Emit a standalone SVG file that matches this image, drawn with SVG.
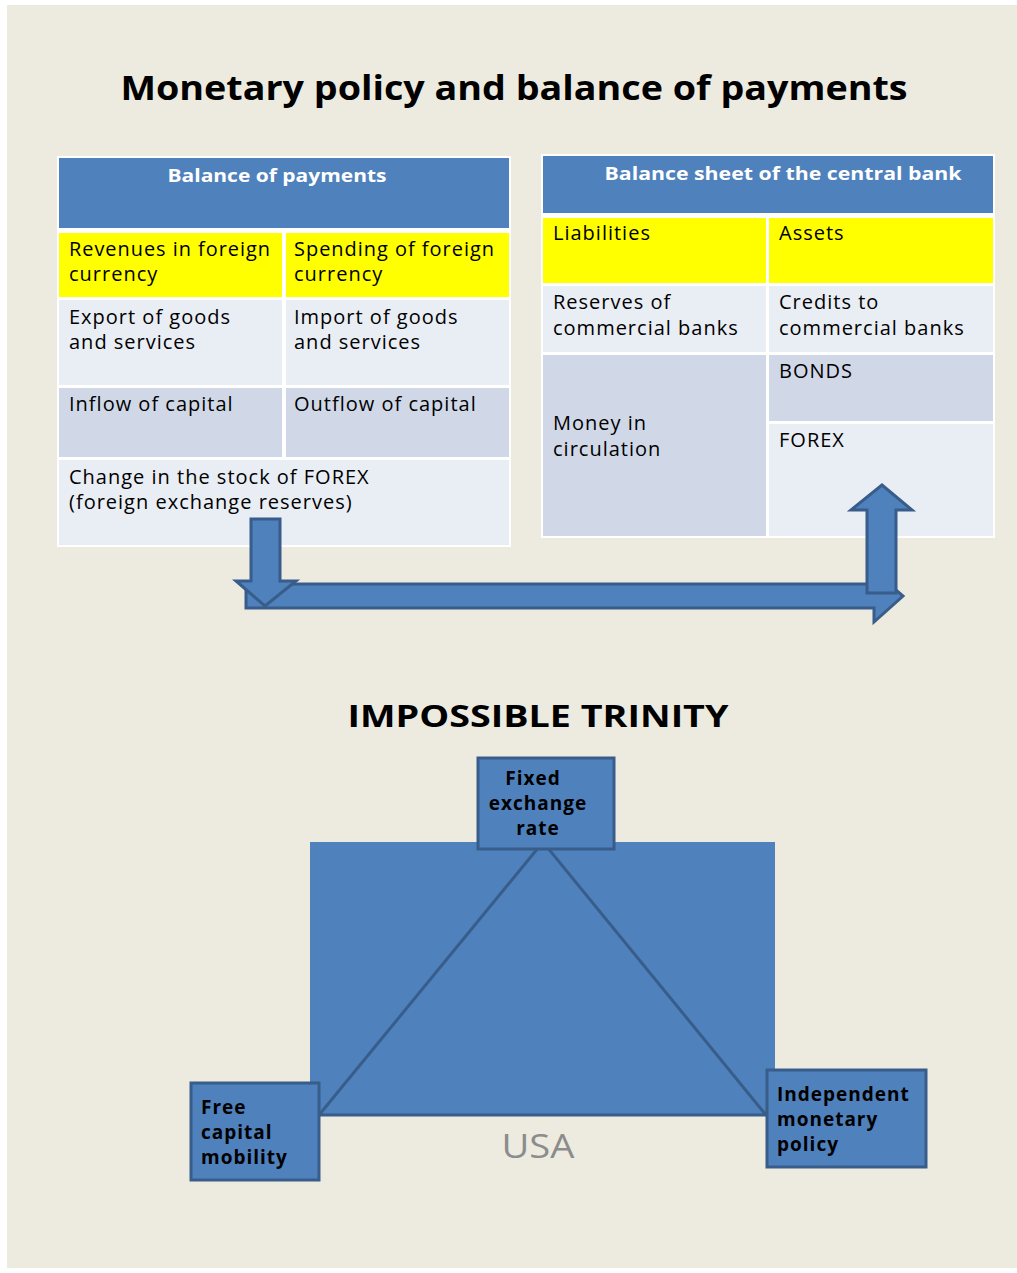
<svg xmlns="http://www.w3.org/2000/svg" width="1017" height="1273" viewBox="0 0 1017 1273">
<style>
  text { font-family: "Open Sans", "Liberation Sans", sans-serif; }
  .title { font-size: 34px; font-weight: bold; fill: #000; }
  .hdr { font-size: 18px; font-weight: bold; fill: #fff; }
  .cell { font-size: 20px; letter-spacing: 1px; fill: #000; }
  .box { fill: #4F81BD; stroke: #385D8A; stroke-width: 3; }
  .blab { font-size: 19px; letter-spacing: 1px; font-weight: bold; fill: #000; }
  .arrow { fill: #4F81BD; stroke: #385D8A; stroke-width: 3; stroke-linejoin: miter; }
  .blue { fill: #4F81BD; }
  .yel { fill: #FFFF00; }
  .lt { fill: #E9EDF4; }
  .dk { fill: #D0D8E8; }
</style>
<rect x="0" y="0" width="1017" height="1273" fill="#ffffff"/>
<rect x="7" y="5" width="1010" height="1263" fill="#EDEBE0"/>

<text class="title" x="514" y="100" text-anchor="middle" textLength="787" lengthAdjust="spacingAndGlyphs">Monetary policy and balance of payments</text>

<g id="balance-of-payments">
  <rect x="57" y="156" width="454" height="391" fill="#ffffff"/>
  <rect class="blue" x="59" y="158" width="450" height="70"/>
  <rect class="yel" x="59" y="233" width="223" height="64"/>
  <rect class="yel" x="286" y="233" width="223" height="64"/>
  <rect class="lt" x="59" y="300" width="223" height="85"/>
  <rect class="lt" x="286" y="300" width="223" height="85"/>
  <rect class="dk" x="59" y="388" width="223" height="69"/>
  <rect class="dk" x="286" y="388" width="223" height="69"/>
  <rect class="lt" x="59" y="460" width="450" height="85"/>
  <text class="hdr" x="277" y="182" text-anchor="middle" textLength="219" lengthAdjust="spacingAndGlyphs">Balance of payments</text>
  <text class="cell" x="69" y="256" textLength="202" lengthAdjust="spacingAndGlyphs">Revenues in foreign</text>
  <text class="cell" x="69" y="281">currency</text>
  <text class="cell" x="294" y="256" textLength="201" lengthAdjust="spacingAndGlyphs">Spending of foreign</text>
  <text class="cell" x="294" y="281">currency</text>
  <text class="cell" x="69" y="324">Export of goods</text>
  <text class="cell" x="69" y="349">and services</text>
  <text class="cell" x="294" y="324">Import of goods</text>
  <text class="cell" x="294" y="349">and services</text>
  <text class="cell" x="69" y="411">Inflow of capital</text>
  <text class="cell" x="294" y="411">Outflow of capital</text>
  <text class="cell" x="69" y="484">Change in the stock of FOREX</text>
  <text class="cell" x="69" y="509">(foreign exchange reserves)</text>
</g>

<g id="central-bank-balance-sheet">
  <rect x="541" y="154" width="454" height="384" fill="#ffffff"/>
  <rect class="blue" x="543" y="156" width="450" height="57"/>
  <rect class="yel" x="543" y="218" width="223" height="65"/>
  <rect class="yel" x="769" y="218" width="224" height="65"/>
  <rect class="lt" x="543" y="286" width="223" height="66"/>
  <rect class="lt" x="769" y="286" width="224" height="66"/>
  <rect class="dk" x="543" y="355" width="223" height="181"/>
  <rect class="dk" x="769" y="355" width="224" height="66"/>
  <rect class="lt" x="769" y="424" width="224" height="112"/>
  <text class="hdr" x="783" y="180" text-anchor="middle" textLength="357" lengthAdjust="spacingAndGlyphs">Balance  sheet of the central bank</text>
  <text class="cell" x="553" y="240">Liabilities</text>
  <text class="cell" x="779" y="240">Assets</text>
  <text class="cell" x="553" y="309">Reserves of</text>
  <text class="cell" x="553" y="335">commercial banks</text>
  <text class="cell" x="779" y="309">Credits to</text>
  <text class="cell" x="779" y="335">commercial banks</text>
  <text class="cell" x="779" y="378">BONDS</text>
  <text class="cell" x="553" y="430">Money in</text>
  <text class="cell" x="553" y="456">circulation</text>
  <text class="cell" x="779" y="447">FOREX</text>
</g>

<g id="connectors">
  <path class="arrow" d="M246,584 L874,584 L874,571 L903,596 L874,622 L874,608 L246,608 Z"/>
  <path class="arrow" d="M251,519 L280,519 L280,581 L296,581 L265,606 L236,581 L251,581 Z"/>
  <path class="arrow" d="M867,593 L867,510 L851,510 L882,485 L912,510 L896,510 L896,593 Z"/>
</g>

<text class="title" x="538" y="727" text-anchor="middle" style="font-size:31px" textLength="381" lengthAdjust="spacingAndGlyphs">IMPOSSIBLE TRINITY</text>

<g id="trinity-area">
  <rect class="blue" x="310" y="842" width="465" height="274"/>
  <path d="M543,842 L319,1115 L766,1115 Z" fill="#4F81BD" stroke="#385D8A" stroke-width="3" stroke-linejoin="miter"/>
</g>

<g id="fixed-exchange-rate">
  <rect class="box" x="478" y="758" width="136" height="91"/>
  <text class="blab" x="533" y="785" text-anchor="middle">Fixed</text>
  <text class="blab" x="538" y="810" text-anchor="middle">exchange</text>
  <text class="blab" x="538" y="835" text-anchor="middle">rate</text>
</g>

<g id="free-capital-mobility">
  <rect class="box" x="191" y="1083" width="128" height="97"/>
  <text class="blab" x="201" y="1114">Free</text>
  <text class="blab" x="201" y="1139">capital</text>
  <text class="blab" x="201" y="1164">mobility</text>
</g>

<g id="independent-monetary-policy">
  <rect class="box" x="767" y="1070" width="159" height="97"/>
  <text class="blab" x="777" y="1101">Independent</text>
  <text class="blab" x="777" y="1126">monetary</text>
  <text class="blab" x="777" y="1151">policy</text>
</g>

<text x="538" y="1158" text-anchor="middle" style="font-size:33px; fill:#8C8C8C;" textLength="73" lengthAdjust="spacingAndGlyphs">USA</text>
</svg>
